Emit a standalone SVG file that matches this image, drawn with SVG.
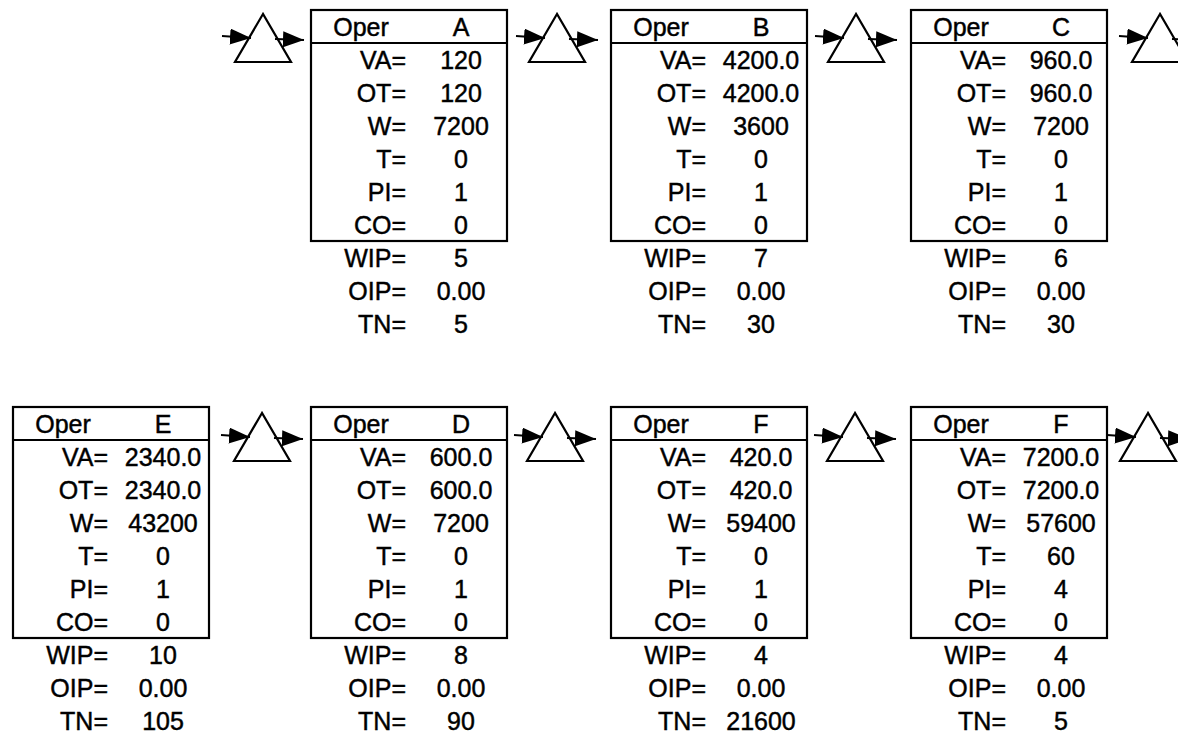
<svg xmlns="http://www.w3.org/2000/svg" width="1178" height="735" viewBox="0 0 1178 735">
  <defs>
    <style>
      text { font-family: "Liberation Sans", Arial, sans-serif; font-size: 25px; fill: #000; stroke: #000; stroke-width: 0.45; }
      .lbl { text-anchor: end; }
      .val { text-anchor: middle; }
      .frame { fill: #fff; stroke: #000; stroke-width: 2.2; }
      .sep { stroke: #000; stroke-width: 2.2; }
      .buf { fill: #fff; stroke: #000; stroke-width: 2.2; stroke-linejoin: miter; }
      .flow { stroke: #000; stroke-width: 2; fill: none; marker-end: url(#head); }
    </style>
    <marker id="head" markerUnits="userSpaceOnUse" markerWidth="22" markerHeight="17" refX="21" refY="8" orient="auto">
      <path d="M0,0 L21,8 L0,16 Z" fill="#000"/>
    </marker>
    <!-- operation card: header + six rows inside the frame -->
    <g id="card">
      <rect class="frame" x="0" y="0" width="196" height="231"/>
      <line class="sep" x1="0" y1="33" x2="196" y2="33"/>
      <text class="val" x="50" y="25.5">Oper</text>
      <text class="lbl" x="95" y="58.5">VA=</text>
      <text class="lbl" x="95" y="91.5">OT=</text>
      <text class="lbl" x="95" y="124.5">W=</text>
      <text class="lbl" x="95" y="157.5">T=</text>
      <text class="lbl" x="95" y="190.5">PI=</text>
      <text class="lbl" x="95" y="223.5">CO=</text>
      <text class="lbl" x="95" y="256.5">WIP=</text>
      <text class="lbl" x="95" y="289.5">OIP=</text>
      <text class="lbl" x="95" y="322.5">TN=</text>
    </g>
  </defs>

  <!-- inventory buffers (triangles) -->
  <g id="buffers">
    <g id="buf-top-1"><polygon class="buf" points="263,14 235,62 291,62"/></g>
    <g id="buf-top-2"><polygon class="buf" points="557,14 529,62 585,62"/></g>
    <g id="buf-top-3"><polygon class="buf" points="856,14 828,62 884,62"/></g>
    <g id="buf-top-4"><polygon class="buf" points="1160,14 1132,62 1188,62"/></g>
    <g id="buf-bot-1"><polygon class="buf" points="262,413 234,461 290,461"/></g>
    <g id="buf-bot-2"><polygon class="buf" points="555,413 527,461 583,461"/></g>
    <g id="buf-bot-3"><polygon class="buf" points="855,413 827,461 883,461"/></g>
    <g id="buf-bot-4"><polygon class="buf" points="1148,413 1120,461 1176,461"/></g>
  </g>

  <!-- flow arrows into and out of each buffer -->
  <g id="connectors">
    <line class="flow" x1="222" y1="36" x2="251" y2="38"/>
    <line class="flow" x1="275" y1="39" x2="304" y2="40"/>
    <line class="flow" x1="516" y1="36" x2="545" y2="38"/>
    <line class="flow" x1="569" y1="39" x2="598" y2="40"/>
    <line class="flow" x1="815" y1="36" x2="844" y2="38"/>
    <line class="flow" x1="868" y1="39" x2="897" y2="40"/>
    <line class="flow" x1="1119" y1="36" x2="1148" y2="38"/>
    <line class="flow" x1="1172" y1="39" x2="1201" y2="40"/>

    <line class="flow" x1="221" y1="435" x2="250" y2="437"/>
    <line class="flow" x1="274" y1="438" x2="303" y2="439"/>
    <line class="flow" x1="514" y1="435" x2="543" y2="437"/>
    <line class="flow" x1="567" y1="438" x2="596" y2="439"/>
    <line class="flow" x1="814" y1="435" x2="843" y2="437"/>
    <line class="flow" x1="867" y1="438" x2="896" y2="439"/>
    <line class="flow" x1="1107" y1="435" x2="1136" y2="437"/>
    <line class="flow" x1="1160" y1="438" x2="1189" y2="439"/>
  </g>

  <!-- operation A -->
  <g id="op-A" transform="translate(311,10)">
    <use href="#card"/>
    <text class="val" x="150" y="25.5">A</text>
    <text class="val" x="150" y="58.5">120</text>
    <text class="val" x="150" y="91.5">120</text>
    <text class="val" x="150" y="124.5">7200</text>
    <text class="val" x="150" y="157.5">0</text>
    <text class="val" x="150" y="190.5">1</text>
    <text class="val" x="150" y="223.5">0</text>
    <text class="val" x="150" y="256.5">5</text>
    <text class="val" x="150" y="289.5">0.00</text>
    <text class="val" x="150" y="322.5">5</text>
  </g>

  <!-- operation B -->
  <g id="op-B" transform="translate(611,10)">
    <use href="#card"/>
    <text class="val" x="150" y="25.5">B</text>
    <text class="val" x="150" y="58.5">4200.0</text>
    <text class="val" x="150" y="91.5">4200.0</text>
    <text class="val" x="150" y="124.5">3600</text>
    <text class="val" x="150" y="157.5">0</text>
    <text class="val" x="150" y="190.5">1</text>
    <text class="val" x="150" y="223.5">0</text>
    <text class="val" x="150" y="256.5">7</text>
    <text class="val" x="150" y="289.5">0.00</text>
    <text class="val" x="150" y="322.5">30</text>
  </g>

  <!-- operation C -->
  <g id="op-C" transform="translate(911,10)">
    <use href="#card"/>
    <text class="val" x="150" y="25.5">C</text>
    <text class="val" x="150" y="58.5">960.0</text>
    <text class="val" x="150" y="91.5">960.0</text>
    <text class="val" x="150" y="124.5">7200</text>
    <text class="val" x="150" y="157.5">0</text>
    <text class="val" x="150" y="190.5">1</text>
    <text class="val" x="150" y="223.5">0</text>
    <text class="val" x="150" y="256.5">6</text>
    <text class="val" x="150" y="289.5">0.00</text>
    <text class="val" x="150" y="322.5">30</text>
  </g>

  <!-- operation E -->
  <g id="op-E" transform="translate(13,407)">
    <use href="#card"/>
    <text class="val" x="150" y="25.5">E</text>
    <text class="val" x="150" y="58.5">2340.0</text>
    <text class="val" x="150" y="91.5">2340.0</text>
    <text class="val" x="150" y="124.5">43200</text>
    <text class="val" x="150" y="157.5">0</text>
    <text class="val" x="150" y="190.5">1</text>
    <text class="val" x="150" y="223.5">0</text>
    <text class="val" x="150" y="256.5">10</text>
    <text class="val" x="150" y="289.5">0.00</text>
    <text class="val" x="150" y="322.5">105</text>
  </g>

  <!-- operation D -->
  <g id="op-D" transform="translate(311,407)">
    <use href="#card"/>
    <text class="val" x="150" y="25.5">D</text>
    <text class="val" x="150" y="58.5">600.0</text>
    <text class="val" x="150" y="91.5">600.0</text>
    <text class="val" x="150" y="124.5">7200</text>
    <text class="val" x="150" y="157.5">0</text>
    <text class="val" x="150" y="190.5">1</text>
    <text class="val" x="150" y="223.5">0</text>
    <text class="val" x="150" y="256.5">8</text>
    <text class="val" x="150" y="289.5">0.00</text>
    <text class="val" x="150" y="322.5">90</text>
  </g>

  <!-- operation F (first) -->
  <g id="op-F1" transform="translate(611,407)">
    <use href="#card"/>
    <text class="val" x="150" y="25.5">F</text>
    <text class="val" x="150" y="58.5">420.0</text>
    <text class="val" x="150" y="91.5">420.0</text>
    <text class="val" x="150" y="124.5">59400</text>
    <text class="val" x="150" y="157.5">0</text>
    <text class="val" x="150" y="190.5">1</text>
    <text class="val" x="150" y="223.5">0</text>
    <text class="val" x="150" y="256.5">4</text>
    <text class="val" x="150" y="289.5">0.00</text>
    <text class="val" x="150" y="322.5">21600</text>
  </g>

  <!-- operation F (second) -->
  <g id="op-F2" transform="translate(911,407)">
    <use href="#card"/>
    <text class="val" x="150" y="25.5">F</text>
    <text class="val" x="150" y="58.5">7200.0</text>
    <text class="val" x="150" y="91.5">7200.0</text>
    <text class="val" x="150" y="124.5">57600</text>
    <text class="val" x="150" y="157.5">60</text>
    <text class="val" x="150" y="190.5">4</text>
    <text class="val" x="150" y="223.5">0</text>
    <text class="val" x="150" y="256.5">4</text>
    <text class="val" x="150" y="289.5">0.00</text>
    <text class="val" x="150" y="322.5">5</text>
  </g>
</svg>
